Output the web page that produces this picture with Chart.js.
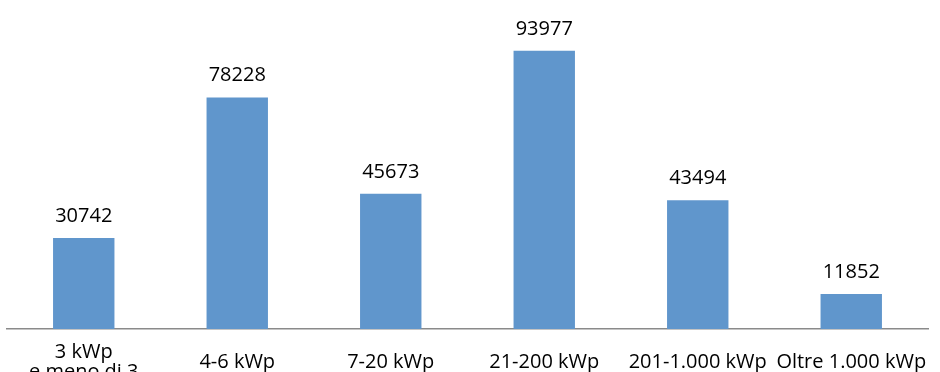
<!DOCTYPE html>
<html><head><meta charset="utf-8">
<script src="https://cdn.jsdelivr.net/npm/chart.js@4/dist/chart.umd.min.js"></script>
<style>html,body{margin:0;padding:0;overflow:hidden;background:#fff}#wrap{width:940px;height:390px}</style>
</head><body><div id="wrap"><canvas id="c" width="940" height="390"></canvas></div>
<script>
const categories = [["3 kWp","e meno di 3"],"4-6 kWp","7-20 kWp","21-200 kWp","201-1.000 kWp","Oltre 1.000 kWp"];
const values = [30742, 78228, 45673, 93977, 43494, 11852];
const FONT = "'Open Sans', sans-serif";

const valueLabels = {
  id: 'valueLabels',
  afterDatasetsDraw(chart) {
    const ctx = chart.ctx;
    const meta = chart.getDatasetMeta(0);
    ctx.save();
    ctx.font = "20px " + FONT;
    ctx.fillStyle = '#000';
    ctx.textAlign = 'center';
    ctx.textBaseline = 'alphabetic';
    meta.data.forEach((bar, i) => {
      ctx.fillText(String(values[i]), bar.x, bar.y - 16);
    });
    ctx.restore();
  }
};

new Chart(document.getElementById('c'), {
  type: 'bar',
  data: { labels: categories, datasets: [{ data: values, backgroundColor: '#6096cc', barPercentage: 0.4, categoryPercentage: 1.0 }] },
  options: {
    responsive: false, animation: false,
    layout: { padding: { left: 7, right: 12, top: 33, bottom: 0 } },
    plugins: { legend: { display: false }, tooltip: { enabled: false } },
    scales: {
      x: {
        grid: { display: false, drawTicks: false },
        border: { display: true, color: '#8a8a8a', width: 1.5 },
        ticks: { color: '#000', font: { family: FONT, size: 20, lineHeight: 1.0 }, maxRotation: 0, minRotation: 0, autoSkip: false, padding: 23, crossAlign: 'center' },
        afterFit(s) { s.height = 390 - 329; s.paddingLeft = 0; s.paddingRight = 0; }
      },
      y: { display: false, min: 0, max: 100000 }
    }
  },
  plugins: [valueLabels]
});
</script></body></html>
